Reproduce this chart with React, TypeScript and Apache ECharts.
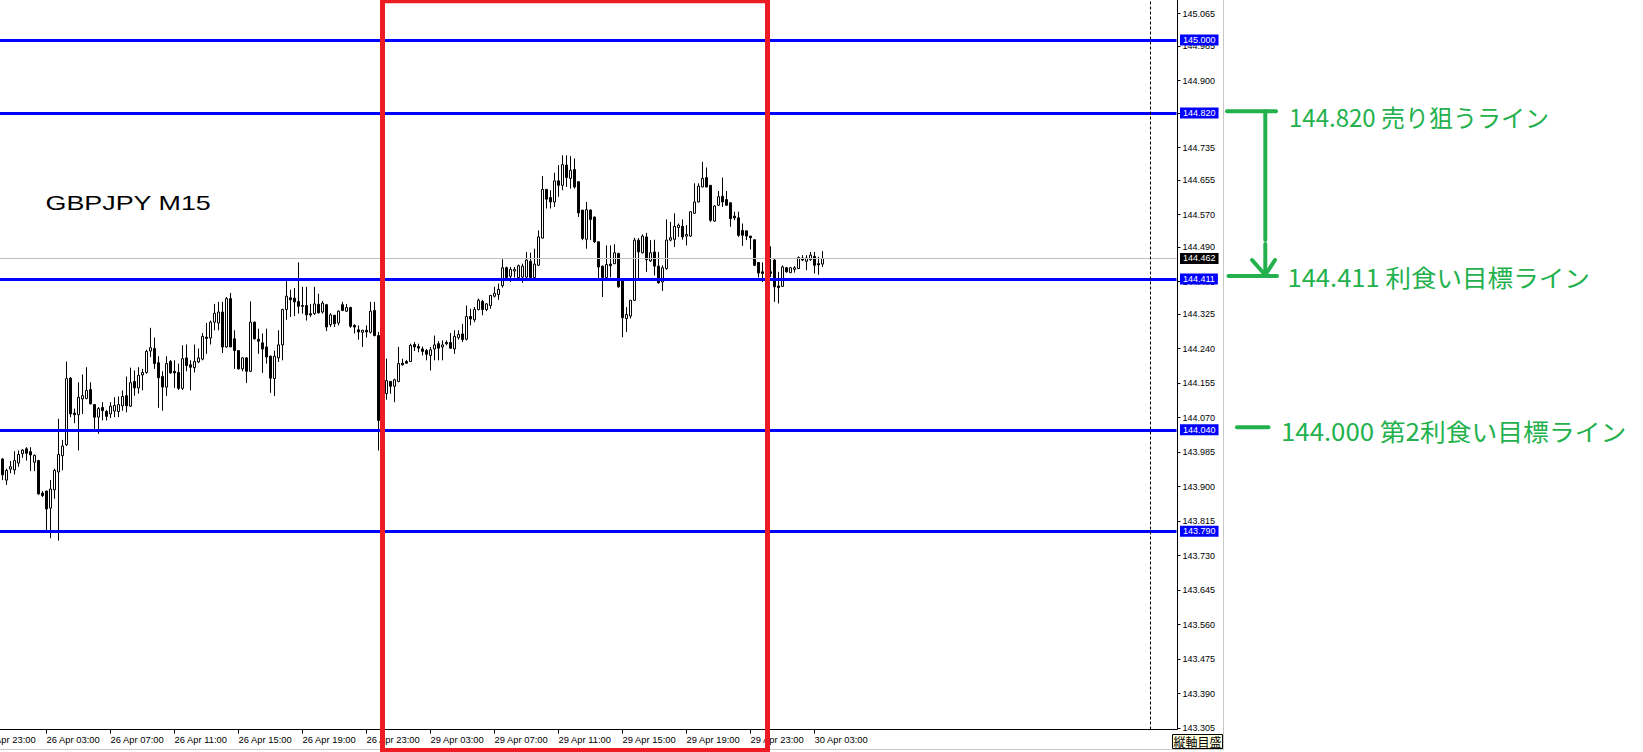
import React, { useEffect, useRef } from "react";
import * as echarts from "echarts";

// The chart canvas starts OFF px to the left of the page, so the first (cut-off) time label
// and the bars scrolled out of view are clipped by the window, as in the MT4 screenshot.
const OFF = 40;
const CHART_W = 1643 + OFF;
const CHART_H = 752;

const chartTitle = "GBPJPY M15";

// time-axis labels, one every 16 M15 bars, starting at category index 0
const xTickLabels = [
  "25 Apr 23:00", "26 Apr 03:00", "26 Apr 07:00", "26 Apr 11:00", "26 Apr 15:00",
  "26 Apr 19:00", "26 Apr 23:00", "29 Apr 03:00", "29 Apr 07:00", "29 Apr 11:00",
  "29 Apr 15:00", "29 Apr 19:00", "29 Apr 23:00", "30 Apr 03:00",
];
const LABEL_STEP = 16;
const CATEGORY_COUNT = 299; // bar slots across the plot area (incl. empty chart shift)
const HIDDEN_BARS = 5; // bars scrolled out of view on the left

// [open, high, low, close] of each visible M15 bar, from 26 Apr 00:15
const candles: number[][] = [
  [143.968, 143.970, 143.916, 143.929], [143.916, 143.944, 143.904, 143.940], [143.943, 143.963, 143.933, 143.949],
  [143.941, 143.987, 143.930, 143.964], [143.958, 143.989, 143.949, 143.979], [143.981, 143.992, 143.971, 143.990],
  [143.993, 143.997, 143.964, 143.982], [143.986, 143.997, 143.938, 143.978], [143.960, 143.979, 143.938, 143.977],
  [143.964, 143.966, 143.880, 143.882], [143.884, 143.889, 143.874, 143.878], [143.889, 143.890, 143.792, 143.845],
  [143.847, 143.916, 143.773, 143.894], [143.892, 143.944, 143.870, 143.940], [143.936, 144.067, 143.767, 143.979],
  [143.976, 144.015, 143.940, 144.000], [144.003, 144.208, 144.000, 144.166], [144.167, 144.170, 144.071, 144.079],
  [144.081, 144.092, 144.056, 144.077], [144.077, 144.157, 143.989, 144.120], [144.116, 144.176, 144.079, 144.124],
  [144.117, 144.194, 144.115, 144.137], [144.139, 144.157, 144.102, 144.104], [144.102, 144.103, 144.042, 144.071],
  [144.071, 144.096, 144.030, 144.092], [144.095, 144.108, 144.063, 144.087], [144.085, 144.089, 144.063, 144.073],
  [144.079, 144.108, 144.069, 144.098], [144.086, 144.120, 144.071, 144.100], [144.085, 144.122, 144.071, 144.102],
  [144.099, 144.137, 144.087, 144.122], [144.124, 144.171, 144.083, 144.099], [144.098, 144.193, 144.096, 144.156],
  [144.159, 144.186, 144.124, 144.143], [144.143, 144.194, 144.129, 144.174], [144.175, 144.190, 144.137, 144.181],
  [144.181, 144.237, 144.178, 144.233], [144.234, 144.291, 144.219, 144.242], [144.240, 144.267, 144.190, 144.203],
  [144.205, 144.221, 144.094, 144.168], [144.171, 144.184, 144.087, 144.145], [144.145, 144.221, 144.123, 144.203],
  [144.208, 144.212, 144.178, 144.180], [144.184, 144.211, 144.143, 144.180], [144.181, 144.203, 144.138, 144.142],
  [144.142, 144.248, 144.138, 144.215], [144.217, 144.250, 144.184, 144.198], [144.200, 144.211, 144.137, 144.194],
  [144.193, 144.250, 144.181, 144.208], [144.207, 144.240, 144.204, 144.217], [144.214, 144.278, 144.211, 144.270],
  [144.268, 144.303, 144.227, 144.265], [144.266, 144.309, 144.250, 144.305], [144.305, 144.350, 144.285, 144.327],
  [144.303, 144.355, 144.285, 144.330], [144.330, 144.355, 144.229, 144.244], [144.244, 144.367, 144.242, 144.363],
  [144.363, 144.377, 144.244, 144.244], [144.264, 144.285, 144.190, 144.235], [144.235, 144.235, 144.188, 144.190],
  [144.190, 144.219, 144.184, 144.217], [144.217, 144.219, 144.155, 144.184], [144.184, 144.356, 144.182, 144.305],
  [144.305, 144.307, 144.262, 144.264], [144.263, 144.289, 144.227, 144.258], [144.254, 144.277, 144.180, 144.239],
  [144.244, 144.289, 144.203, 144.219], [144.221, 144.223, 144.131, 144.167], [144.166, 144.235, 144.123, 144.221],
  [144.217, 144.285, 144.207, 144.249], [144.249, 144.338, 144.211, 144.336], [144.336, 144.406, 144.311, 144.369],
  [144.365, 144.385, 144.318, 144.360], [144.364, 144.389, 144.320, 144.355], [144.356, 144.452, 144.326, 144.344],
  [144.346, 144.392, 144.326, 144.344], [144.346, 144.392, 144.309, 144.323], [144.326, 144.350, 144.318, 144.323],
  [144.326, 144.392, 144.323, 144.350], [144.349, 144.375, 144.326, 144.328], [144.330, 144.357, 144.326, 144.352],
  [144.348, 144.350, 144.283, 144.293], [144.299, 144.327, 144.293, 144.323], [144.322, 144.323, 144.293, 144.301],
  [144.303, 144.334, 144.297, 144.332], [144.348, 144.355, 144.332, 144.334], [144.332, 144.350, 144.330, 144.341],
  [144.341, 144.343, 144.291, 144.295], [144.297, 144.300, 144.277, 144.293], [144.286, 144.297, 144.262, 144.281],
  [144.280, 144.286, 144.244, 144.285], [144.285, 144.297, 144.267, 144.281], [144.280, 144.355, 144.277, 144.332],
  [144.334, 144.355, 144.270, 144.272], [144.272, 144.281, 143.989, 144.063], [144.065, 144.135, 144.060, 144.128],
  [144.129, 144.215, 144.114, 144.161], [144.159, 144.160, 144.129, 144.147], [144.147, 144.166, 144.108, 144.163],
  [144.159, 144.244, 144.157, 144.203], [144.204, 144.215, 144.198, 144.200], [144.208, 144.212, 144.203, 144.204],
  [144.208, 144.252, 144.207, 144.248], [144.250, 144.256, 144.234, 144.244], [144.245, 144.252, 144.231, 144.241],
  [144.239, 144.245, 144.223, 144.233], [144.235, 144.239, 144.211, 144.226], [144.223, 144.244, 144.186, 144.237],
  [144.239, 144.272, 144.211, 144.249], [144.252, 144.258, 144.211, 144.241], [144.244, 144.260, 144.211, 144.249],
  [144.255, 144.260, 144.248, 144.252], [144.255, 144.278, 144.239, 144.241], [144.239, 144.285, 144.227, 144.270],
  [144.267, 144.285, 144.262, 144.275], [144.276, 144.301, 144.256, 144.262], [144.263, 144.346, 144.260, 144.319],
  [144.319, 144.338, 144.297, 144.313], [144.311, 144.342, 144.305, 144.336], [144.336, 144.363, 144.334, 144.359],
  [144.356, 144.360, 144.322, 144.336], [144.336, 144.352, 144.332, 144.350], [144.346, 144.371, 144.338, 144.371],
  [144.369, 144.392, 144.366, 144.376], [144.373, 144.400, 144.360, 144.386], [144.395, 144.460, 144.390, 144.439],
  [144.439, 144.442, 144.410, 144.415], [144.418, 144.441, 144.404, 144.435], [144.431, 144.441, 144.415, 144.435],
  [144.415, 144.447, 144.412, 144.444], [144.416, 144.449, 144.402, 144.443], [144.416, 144.478, 144.412, 144.458],
  [144.455, 144.476, 144.414, 144.415], [144.415, 144.486, 144.412, 144.448], [144.445, 144.531, 144.444, 144.515],
  [144.512, 144.665, 144.511, 144.632], [144.632, 144.632, 144.585, 144.608], [144.612, 144.630, 144.585, 144.601],
  [144.601, 144.673, 144.589, 144.653], [144.653, 144.692, 144.614, 144.642], [144.642, 144.716, 144.630, 144.693],
  [144.692, 144.716, 144.638, 144.661], [144.659, 144.714, 144.634, 144.679], [144.681, 144.708, 144.634, 144.638],
  [144.651, 144.651, 144.564, 144.574], [144.581, 144.581, 144.507, 144.511], [144.509, 144.601, 144.486, 144.582],
  [144.581, 144.583, 144.507, 144.558], [144.564, 144.565, 144.500, 144.503], [144.503, 144.503, 144.412, 144.441],
  [144.443, 144.444, 144.367, 144.415], [144.415, 144.494, 144.413, 144.447], [144.448, 144.494, 144.415, 144.444],
  [144.449, 144.497, 144.448, 144.476], [144.474, 144.476, 144.390, 144.392], [144.408, 144.408, 144.268, 144.316],
  [144.314, 144.342, 144.281, 144.324], [144.320, 144.359, 144.314, 144.359], [144.359, 144.513, 144.357, 144.507],
  [144.507, 144.512, 144.408, 144.478], [144.476, 144.521, 144.474, 144.517], [144.515, 144.525, 144.429, 144.459],
  [144.456, 144.507, 144.453, 144.476], [144.478, 144.508, 144.420, 144.443], [144.443, 144.478, 144.400, 144.402],
  [144.404, 144.445, 144.382, 144.439], [144.437, 144.558, 144.434, 144.507], [144.507, 144.552, 144.504, 144.513],
  [144.509, 144.573, 144.490, 144.541], [144.538, 144.548, 144.515, 144.544], [144.541, 144.558, 144.508, 144.515],
  [144.517, 144.544, 144.494, 144.521], [144.517, 144.577, 144.515, 144.577], [144.573, 144.647, 144.573, 144.601],
  [144.601, 144.647, 144.600, 144.640], [144.638, 144.700, 144.637, 144.659], [144.661, 144.686, 144.637, 144.638],
  [144.642, 144.642, 144.552, 144.556], [144.554, 144.593, 144.552, 144.591], [144.593, 144.628, 144.591, 144.614],
  [144.615, 144.661, 144.589, 144.601], [144.607, 144.628, 144.591, 144.593], [144.599, 144.600, 144.540, 144.560],
  [144.566, 144.577, 144.556, 144.562], [144.562, 144.577, 144.515, 144.519], [144.531, 144.548, 144.493, 144.519],
  [144.530, 144.530, 144.507, 144.517], [144.517, 144.517, 144.484, 144.513], [144.508, 144.508, 144.443, 144.445],
  [144.452, 144.452, 144.415, 144.426], [144.429, 144.452, 144.404, 144.425], [144.425, 144.455, 144.412, 144.428],
  [144.429, 144.492, 144.416, 144.425], [144.458, 144.462, 144.355, 144.392], [144.394, 144.429, 144.351, 144.390],
  [144.393, 144.445, 144.392, 144.441], [144.439, 144.441, 144.427, 144.429], [144.427, 144.441, 144.427, 144.439],
  [144.435, 144.443, 144.427, 144.439], [144.437, 144.467, 144.436, 144.464], [144.463, 144.470, 144.456, 144.458],
  [144.455, 144.470, 144.433, 144.463], [144.459, 144.478, 144.456, 144.470], [144.467, 144.478, 144.425, 144.445],
  [144.449, 144.466, 144.422, 144.446], [144.448, 144.480, 144.441, 144.462],
];

// price scale
const yMin = 143.3017;
const yMax = 145.0985;
const yTickValues = [
  145.065, 144.985, 144.9, 144.82, 144.735, 144.655, 144.57, 144.49, 144.405, 144.325, 144.24,
  144.155, 144.07, 143.985, 143.9, 143.815, 143.73, 143.645, 143.56, 143.475, 143.39, 143.305,
];
const levelLines = [145.0, 144.82, 144.411, 144.04, 143.79];
const bidPrice = 144.462;
const shiftIndex = 292; // category index of the dashed chart-shift line

const noteTexts = ["144.820 売り狙うライン", "144.411 利食い目標ライン", "144.000 第2利食い目標ライン"];
const scaleCaption = "縦軸目盛";

const GREEN = "#22B14C";
const RED = "#ED1C24";
const BLUE = "#0000FF";
const AXIS_FONT = '"Liberation Sans", Arial, sans-serif';
const CJK_FONT = '"Noto Sans CJK JP", "Noto Sans CJK SC", sans-serif';

function showTick(i: number) {
  return i % LABEL_STEP === 0 && i / LABEL_STEP < xTickLabels.length;
}

function buildOption() {
  const categories = Array.from({ length: CATEGORY_COUNT }, (_, i) =>
    showTick(i) ? xTickLabels[i / LABEL_STEP] : "bar" + i
  );
  const data: any[] = [];
  for (let i = 0; i < HIDDEN_BARS; i++) data.push(["-", "-", "-", "-"]);
  candles.forEach(([o, h, l, c]) => data.push([o, c, l, h]));

  const priceLabel = (bg: string) => ({
    show: true,
    position: "end",
    distance: 3.5,
    color: "#fff",
    backgroundColor: bg,
    fontFamily: AXIS_FONT,
    fontSize: 9,
    lineHeight: 10,
    padding: [1, 3, 0, 3],
  });

  const gLine = (x1: number, y1: number, x2: number, y2: number) => ({
    type: "line",
    z: 90,
    shape: { x1: x1 + OFF, y1, x2: x2 + OFF, y2 },
    style: { stroke: GREEN, lineWidth: 4, lineCap: "round" },
  });
  const gText = (text: string, x: number, y: number, sx: number) => ({
    type: "text",
    z: 90,
    x: x + OFF,
    y,
    scaleX: sx,
    style: {
      text,
      fill: GREEN,
      font: "24px " + CJK_FONT,
      textAlign: "left",
      align: "left",
      textVerticalAlign: "middle",
      verticalAlign: "middle",
    },
  });

  return {
    animation: false,
    backgroundColor: "#ffffff",
    grid: {
      left: OFF - 19.5,
      top: 0,
      width: CATEGORY_COUNT * 4,
      height: 729.5,
      containLabel: false,
      outerBoundsMode: "none",
    },
    xAxis: {
      type: "category",
      data: categories,
      boundaryGap: true,
      axisLine: { show: true, lineStyle: { color: "#000", width: 1 } },
      axisTick: {
        show: true,
        alignWithLabel: true,
        interval: (i: number) => showTick(i),
        length: 4,
        lineStyle: { color: "#000" },
      },
      axisLabel: {
        interval: (i: number) => showTick(i),
        align: "left",
        margin: 5,
        color: "#000",
        fontFamily: AXIS_FONT,
        fontSize: 9.4,
      },
      splitLine: { show: false },
    },
    yAxis: {
      type: "value",
      position: "right",
      offset: 1,
      min: yMin,
      max: yMax,
      scale: true,
      axisLine: { show: true, lineStyle: { color: "#000", width: 1 } },
      axisTick: { show: true, length: 3, customValues: yTickValues, lineStyle: { color: "#000" } },
      axisLabel: {
        customValues: yTickValues,
        formatter: (v: number) => v.toFixed(3),
        margin: 5,
        color: "#000",
        fontFamily: AXIS_FONT,
        fontSize: 9,
      },
      splitLine: { show: false },
    },
    series: [
      {
        type: "candlestick",
        data,
        barWidth: 2,
        itemStyle: {
          color: "#ffffff",
          color0: "#000000",
          borderColor: "#000000",
          borderColor0: "#000000",
          borderColorDoji: "#000000",
          borderWidth: 1,
        },
        emphasis: { disabled: true },
        markLine: {
          silent: true,
          symbol: ["none", "none"],
          precision: 3,
          animation: false,
          emphasis: { disabled: true },
          data: [
            {
              yAxis: bidPrice,
              lineStyle: { color: "#C0C0C0", width: 1, type: "solid" },
              label: { ...priceLabel("#000000"), formatter: bidPrice.toFixed(3) },
            },
            ...levelLines.map((v) => ({
              yAxis: v,
              lineStyle: { color: BLUE, width: 3, type: "solid" },
              label: { ...priceLabel(BLUE), formatter: v.toFixed(3) },
            })),
            {
              xAxis: shiftIndex,
              lineStyle: { color: "#000000", width: 1, type: [3, 2] },
              label: { show: false },
            },
          ],
        },
      },
    ],
    graphic: [
      {
        type: "text",
        z: 60,
        x: 45.5 + OFF,
        y: 202.5,
        scaleX: 1.28,
        style: {
          text: chartTitle,
          fill: "#000",
          font: "21px " + AXIS_FONT,
          textAlign: "left",
          align: "left",
          textVerticalAlign: "middle",
          verticalAlign: "middle",
        },
      },
      // MT4 window borders
      {
        type: "line",
        z: 60,
        shape: { x1: 1223.5 + OFF, y1: 0, x2: 1223.5 + OFF, y2: 750 },
        style: { stroke: "#C8C8C8", lineWidth: 1 },
      },
      {
        type: "line",
        z: 60,
        shape: { x1: 0, y1: 749.5, x2: 1224 + OFF, y2: 749.5 },
        style: { stroke: "#C8C8C8", lineWidth: 1 },
      },
      // price-scale caption box
      {
        type: "rect",
        z: 60,
        shape: { x: 1172.5 + OFF, y: 734.5, width: 50, height: 14 },
        style: { fill: "#FFFFE1", stroke: "#000", lineWidth: 1 },
      },
      {
        type: "text",
        z: 61,
        x: 1197.5 + OFF,
        y: 741.5,
        style: {
          text: scaleCaption,
          fill: "#000",
          font: "12px " + CJK_FONT,
          textAlign: "center",
          align: "center",
          textVerticalAlign: "middle",
          verticalAlign: "middle",
        },
      },
      // red highlight box
      {
        type: "rect",
        z: 100,
        shape: { x: 382.5 + OFF, y: 0.8, width: 385, height: 749.7 },
        style: { fill: "none", stroke: RED, lineWidth: 5 },
      },
      // green annotations
      gLine(1227, 111.3, 1276, 111.3),
      gLine(1265.3, 111.3, 1265.3, 240),
      gLine(1265.3, 244, 1265.3, 275),
      gLine(1252, 260, 1265.3, 275),
      gLine(1275, 260, 1265.3, 275),
      gLine(1228.5, 276, 1277, 276),
      gLine(1237, 427.3, 1268.5, 427.3),
      gText(noteTexts[0], 1289, 116.7, 1.0),
      gText(noteTexts[1], 1287.5, 276.7, 1.065),
      gText(noteTexts[2], 1281, 430, 1.075),
    ],
  };
}

export default function App() {
  const ref = useRef<HTMLDivElement>(null);
  useEffect(() => {
    if (!ref.current) return;
    const chart = echarts.init(ref.current, undefined, { renderer: "svg" });
    chart.setOption(buildOption() as any);
    return () => chart.dispose();
  }, []);
  return (
    <div
      ref={ref}
      style={{
        position: "absolute",
        left: -OFF,
        top: 0,
        width: CHART_W,
        height: CHART_H,
        background: "#fff",
      }}
    />
  );
}
